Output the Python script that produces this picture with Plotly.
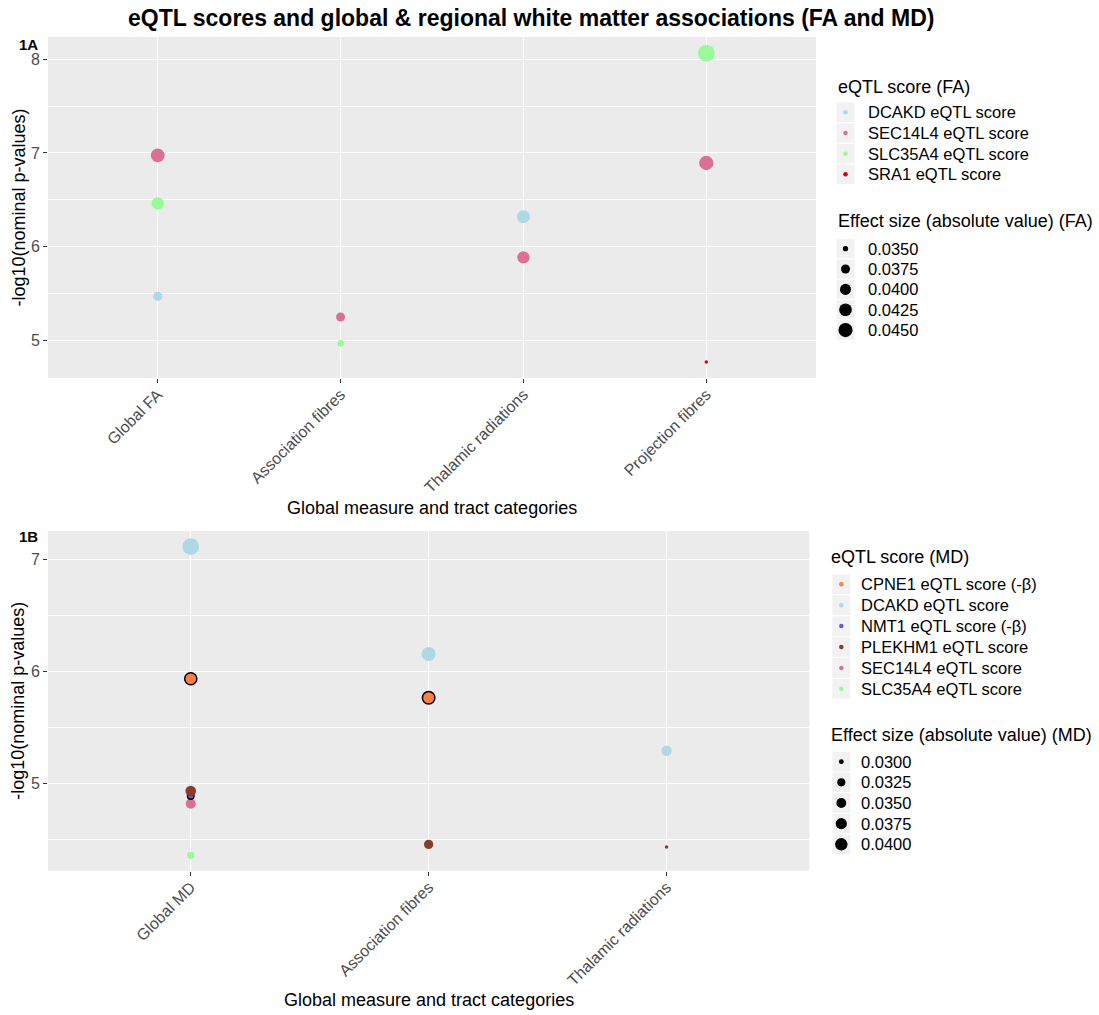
import numpy as np
import plotly.graph_objects as go

W, H = 1099, 1015
FONT = "Liberation Sans, Arial, sans-serif"

# ---------------- FA associations (panel 1A) ----------------
fa_categories = ["Global FA", "Association fibres", "Thalamic radiations", "Projection fibres"]
fa_genes = ["DCAKD eQTL score", "SEC14L4 eQTL score", "SLC35A4 eQTL score", "SRA1 eQTL score"]
fa_tract = ["Global FA", "Global FA", "Global FA",
            "Association fibres", "Association fibres",
            "Thalamic radiations", "Thalamic radiations",
            "Projection fibres", "Projection fibres", "Projection fibres"]
fa_gene = ["SEC14L4 eQTL score", "SLC35A4 eQTL score", "DCAKD eQTL score",
           "SEC14L4 eQTL score", "SLC35A4 eQTL score",
           "DCAKD eQTL score", "SEC14L4 eQTL score",
           "SLC35A4 eQTL score", "SEC14L4 eQTL score", "SRA1 eQTL score"]
fa_logp = [6.974, 6.462, 5.470, 5.249, 4.968, 6.320, 5.886, 8.064, 6.893, 4.768]
fa_effect = [0.0443, 0.0418, 0.0378, 0.0375, 0.0356, 0.0430, 0.0418, 0.0510, 0.0454, 0.0347]
fa_size_breaks = [0.0350, 0.0375, 0.0400, 0.0425, 0.0450]

# ---------------- MD associations (panel 1B) ----------------
md_categories = ["Global MD", "Association fibres", "Thalamic radiations"]
md_genes = ["CPNE1 eQTL score (-\u03b2)", "DCAKD eQTL score", "NMT1 eQTL score (-\u03b2)",
            "PLEKHM1 eQTL score", "SEC14L4 eQTL score", "SLC35A4 eQTL score"]
md_tract = ["Global MD", "Global MD", "Global MD", "Global MD", "Global MD", "Global MD",
            "Association fibres", "Association fibres", "Association fibres",
            "Thalamic radiations", "Thalamic radiations"]
md_gene = ["DCAKD eQTL score", "CPNE1 eQTL score (-\u03b2)", "SEC14L4 eQTL score",
           "NMT1 eQTL score (-\u03b2)", "PLEKHM1 eQTL score", "SLC35A4 eQTL score",
           "DCAKD eQTL score", "CPNE1 eQTL score (-\u03b2)", "PLEKHM1 eQTL score",
           "DCAKD eQTL score", "PLEKHM1 eQTL score"]
md_logp = [7.113, 5.934, 4.817, 4.887, 4.931, 4.357, 6.155, 5.764, 4.455, 5.291, 4.431]
md_effect = [0.0525, 0.0431, 0.0352, 0.0324, 0.0365, 0.0317, 0.0439, 0.0439, 0.0341, 0.0357, 0.0298]
md_size_breaks = [0.0300, 0.0325, 0.0350, 0.0375, 0.0400]

gene_colors = {
    "DCAKD eQTL score": "#ADD8E6",
    "SEC14L4 eQTL score": "#DB7093",
    "SLC35A4 eQTL score": "#98FB98",
    "SRA1 eQTL score": "#E00000",
    "CPNE1 eQTL score (-\u03b2)": "#FF7F45",
    "NMT1 eQTL score (-\u03b2)": "#6A5ACD",
    "PLEKHM1 eQTL score": "#8B3A2C",
}
outlined = {"CPNE1 eQTL score (-\u03b2)", "NMT1 eQTL score (-\u03b2)"}

# drawing order inside each panel (later traces sit on top)
fa_draw_order = ["SEC14L4 eQTL score", "SLC35A4 eQTL score", "DCAKD eQTL score", "SRA1 eQTL score"]
md_draw_order = ["DCAKD eQTL score", "SLC35A4 eQTL score", "SEC14L4 eQTL score",
                 "CPNE1 eQTL score (-\u03b2)", "NMT1 eQTL score (-\u03b2)", "PLEKHM1 eQTL score"]


def area_size(v, lo, hi):
    """Point diameter in px, area-proportional scaling like scale_size()."""
    t = (np.asarray(v, dtype=float) - lo) / (hi - lo)
    return 3.5 + 13.3 * np.sqrt(np.clip(t, 0, None))


fig = go.Figure()


def add_panel(tract, gene, logp, effect, order, xa, ya):
    lo, hi = min(effect), max(effect)
    for g in order:
        idx = [i for i, gg in enumerate(gene) if gg == g]
        d = area_size([effect[i] for i in idx], lo, hi)
        if g in outlined:
            marker = dict(size=d - 1.5, color=gene_colors[g], opacity=1,
                          line=dict(color="black", width=1.5))
        else:
            marker = dict(size=d, color=gene_colors[g], opacity=1, line=dict(width=0))
        fig.add_trace(go.Scatter(
            x=[tract[i] for i in idx], y=[logp[i] for i in idx],
            mode="markers", marker=marker, name=g, showlegend=False,
            xaxis=xa, yaxis=ya, cliponaxis=False))
    return lo, hi


fa_lo, fa_hi = add_panel(fa_tract, fa_gene, fa_logp, fa_effect, fa_draw_order, "x", "y")
md_lo, md_hi = add_panel(md_tract, md_gene, md_logp, md_effect, md_draw_order, "x2", "y2")

# ---------------- panel geometry (pixels) ----------------
P1 = dict(l=48, r=816, t=37, b=378)
P2 = dict(l=48, r=809.3, t=531, b=870.7)


def dom(p):
    return [p["l"] / W, p["r"] / W], [1 - p["b"] / H, 1 - p["t"] / H]


x1d, y1d = dom(P1)
x2d, y2d = dom(P2)

axis_common = dict(
    showline=False, zeroline=False, ticks="outside", ticklen=4, tickwidth=1,
    tickcolor="#333333", gridcolor="white", gridwidth=1.3,
    tickfont=dict(family=FONT, size=16, color="#4D4D4D"), fixedrange=True,
)
x_common = dict(type="category", categoryorder="array", tickangle=-45,
                ticklabelstandoff=-4, **axis_common)
y_common = dict(dtick=1, tick0=0,
                minor=dict(dtick=0.5, showgrid=True, gridcolor="white", gridwidth=0.6, ticks=""),
                **axis_common)

layout = dict(
    width=W, height=H, margin=dict(l=0, r=0, t=0, b=0),
    paper_bgcolor="white", plot_bgcolor="rgba(0,0,0,0)",
    font=dict(family=FONT, color="black"), showlegend=False,
    xaxis=dict(domain=x1d, anchor="y", categoryarray=fa_categories,
               range=[-0.6, len(fa_categories) - 0.4], **x_common),
    yaxis=dict(domain=y1d, anchor="x", range=[4.598, 8.238], **y_common),
    xaxis2=dict(domain=x2d, anchor="y2", categoryarray=md_categories,
                range=[-0.6, len(md_categories) - 0.4], **x_common),
    yaxis2=dict(domain=y2d, anchor="x2", range=[4.22, 7.253], **y_common),
    # pixel-space overlay used for titles and legends
    xaxis3=dict(domain=[0, 1], anchor="y3", range=[0, W], visible=False, fixedrange=True),
    yaxis3=dict(domain=[0, 1], anchor="x3", range=[H, 0], visible=False, fixedrange=True),
)
fig.update_layout(**layout)

shapes = []
for p in (P1, P2):
    shapes.append(dict(type="rect", xref="paper", yref="paper",
                       x0=p["l"] / W, x1=p["r"] / W, y0=1 - p["b"] / H, y1=1 - p["t"] / H,
                       fillcolor="#EBEBEB", line=dict(width=0), layer="below"))

annotations = []


def text(x, y, s, size, bold=False, color="black", xanchor="center", angle=0):
    annotations.append(dict(
        x=x, y=y, xref="x3", yref="y3", text=f"<b>{s}</b>" if bold else s,
        showarrow=False, xanchor=xanchor, yanchor="middle", textangle=angle,
        font=dict(family=FONT, size=size, color=color)))


text(531, 18, "eQTL scores and global &amp; regional white matter associations (FA and MD)", 23, bold=True)
text(17, 44, "1A", 15, bold=True, xanchor="left")
text(17, 536, "1B", 15, bold=True, xanchor="left")
text(18, (P1["t"] + P1["b"]) / 2, "-log10(nominal p-values)", 18, angle=-90)
text(18, (P2["t"] + P2["b"]) / 2, "-log10(nominal p-values)", 18, angle=-90)
text((P1["l"] + P1["r"]) / 2, 508, "Global measure and tract categories", 18)
text((P2["l"] + P2["r"]) / 2, 1000, "Global measure and tract categories", 18)


def legend_block(title, title_x, title_y, key_cx, label_x, row0, step, labels, colors, sizes, key_w=18):
    text(title_x, title_y, title, 18, xanchor="left")
    xs, ys = [], []
    for i, lab in enumerate(labels):
        cy = row0 + i * step
        shapes.append(dict(type="rect", xref="x3", yref="y3",
                           x0=key_cx - key_w / 2, x1=key_cx + key_w / 2,
                           y0=cy - step / 2 + 0.6, y1=cy + step / 2 - 0.6,
                           fillcolor="#F2F2F2", line=dict(width=0), layer="below"))
        text(label_x, cy, lab, 16.5, xanchor="left")
        xs.append(key_cx)
        ys.append(cy)
    fig.add_trace(go.Scatter(x=xs, y=ys, mode="markers", xaxis="x3", yaxis="y3",
                             marker=dict(size=sizes, color=colors, opacity=1, line=dict(width=0)),
                             showlegend=False, hoverinfo="skip", cliponaxis=False))


# FA legends
legend_block("eQTL score (FA)", 836, 86.7, 845.5, 865.7, 112.3, 20.67,
             fa_genes, [gene_colors[g] for g in fa_genes], [4.5] * len(fa_genes))
legend_block("Effect size (absolute value) (FA)", 836, 221, 845.5, 865.7, 248.7, 20.35,
             [f"{b:.4f}" for b in fa_size_breaks], ["black"] * len(fa_size_breaks),
             list(area_size(fa_size_breaks, fa_lo, fa_hi)))
# MD legends
legend_block("eQTL score (MD)", 829.3, 557.3, 841.3, 859.3, 584.3, 20.9,
             md_genes, [gene_colors[g] for g in md_genes], [4.5] * len(md_genes))
legend_block("Effect size (absolute value) (MD)", 829.3, 735, 841.3, 859.3, 761.7, 20.65,
             [f"{b:.4f}" for b in md_size_breaks], ["black"] * len(md_size_breaks),
             list(area_size(md_size_breaks, md_lo, md_hi)))

fig.update_layout(shapes=shapes, annotations=annotations)
fig.write_html("out.html")
